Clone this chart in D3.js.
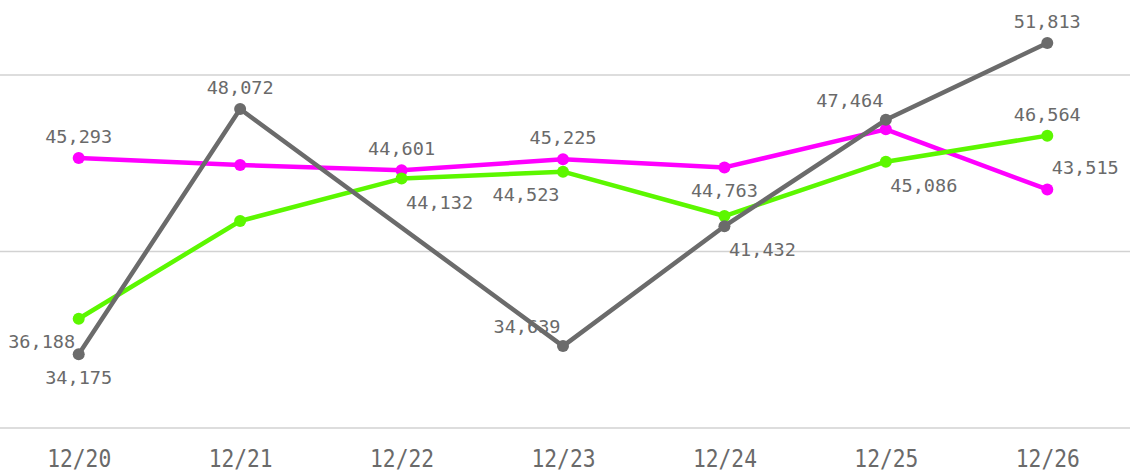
<!DOCTYPE html>
<html>
<head>
<meta charset="utf-8">
<script src="https://cdn.jsdelivr.net/npm/d3@7"></script>
<style>
  body { margin: 0; background: #fff; }
  text { font-family: "DejaVu Sans Mono", monospace; fill: #6a6a6a; }
</style>
</head>
<body>
<div id="line-chart"></div>
<script>
// data
const dates = ["12/20", "12/21", "12/22", "12/23", "12/24", "12/25", "12/26"];
const magentaValues = [45293, 44900, 44601, 45225, 44763, 46920, 43515];
const greenValues = [36188, 41730, 44132, 44523, 42010, 45086, 46564];
const grayValues = [34175, 48072, null, 34639, 41432, 47464, 51813];
const gridTicks = [30000, 40000, 50000];

// which points get a value label, and where (t, b, tl, bl, br, tr)
const magentaLabels = ["t", null, "t", "t", "b", null, "tr"];
const greenLabels = ["bl", null, "br", "bl", null, "br", "t"];
const grayLabels = ["b", "t", null, "tl", "br", "tl", "t"];

const width = 1130, height = 475;

const svg = d3.select("#line-chart")
    .append("svg")
    .attr("width", width)
    .attr("height", height);

const x = d3.scalePoint()
    .domain(dates)
    .range([-2, 1128])
    .padding(0.5);

const y = d3.scaleLinear()
    .domain([30000, 50000])
    .range([428, 75]);

// gridlines
svg.append("g")
    .selectAll("line")
    .data(gridTicks)
    .join("line")
    .attr("x1", 0)
    .attr("x2", width)
    .attr("y1", d => y(d))
    .attr("y2", d => y(d))
    .attr("stroke", "#d2d2d2")
    .attr("stroke-width", 1.5);

// x axis labels
const xAxis = svg.append("g")
    .attr("transform", "translate(0,428)")
    .call(d3.axisBottom(x).tickSize(0).tickPadding(22));
xAxis.select(".domain").remove();
xAxis.selectAll("text")
    .style("font-family", "DejaVu Sans Mono, monospace")
    .style("font-size", "24px")
    .attr("fill", "#6a6a6a")
    .attr("textLength", 64)
    .attr("lengthAdjust", "spacingAndGlyphs");

const series = [
    { name: "magenta", color: "#ff00ff", values: magentaValues, labels: magentaLabels },
    { name: "green", color: "#5cf700", values: greenValues, labels: greenLabels },
    { name: "gray", color: "#6b6b6b", values: grayValues, labels: grayLabels }
];

const offsets = {
    t: [0, -15], b: [0, 30],
    tl: [-36, -13], bl: [-37, 29],
    br: [38, 30], tr: [38, -15]
};

const fmt = d3.format(",");

series.forEach(s => {
    const pts = dates.map((d, i) => ({ date: d, v: s.values[i], pos: s.labels[i] }))
        .filter(p => p.v != null);

    svg.append("path")
        .datum(pts)
        .attr("fill", "none")
        .attr("stroke", s.color)
        .attr("stroke-width", 4.5)
        .attr("stroke-linejoin", "round")
        .attr("d", d3.line()
            .x(d => x(d.date))
            .y(d => y(d.v)));

    svg.append("g")
        .selectAll("circle")
        .data(pts)
        .join("circle")
        .attr("cx", d => x(d.date))
        .attr("cy", d => y(d.v))
        .attr("r", 6)
        .attr("fill", s.color);
});

// value labels on top
series.forEach(s => {
    const pts = dates.map((d, i) => ({ date: d, v: s.values[i], pos: s.labels[i] }))
        .filter(p => p.v != null && p.pos);

    svg.append("g")
        .selectAll("text")
        .data(pts)
        .join("text")
        .attr("x", d => x(d.date) + offsets[d.pos][0])
        .attr("y", d => y(d.v) + offsets[d.pos][1])
        .attr("text-anchor", "middle")
        .style("font-size", "18px")
        .attr("textLength", 67)
        .attr("lengthAdjust", "spacingAndGlyphs")
        .text(d => fmt(d.v));
});
</script>
</body>
</html>
